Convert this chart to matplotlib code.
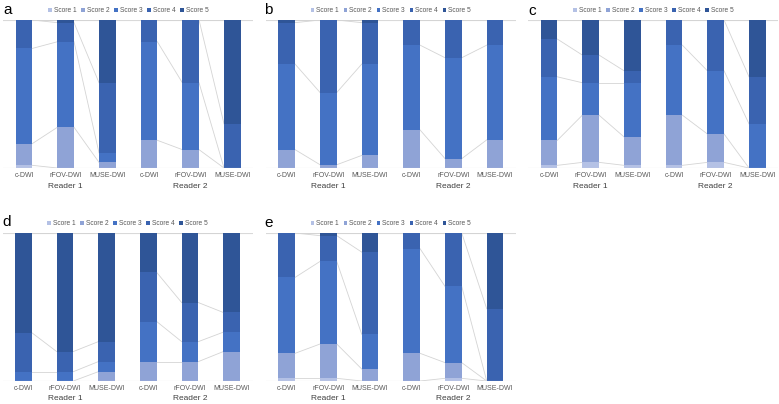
import matplotlib
matplotlib.use("Agg")
import matplotlib.pyplot as plt
import numpy as np
from matplotlib.patches import Patch
import matplotlib.transforms as mtransforms

categories = ["c-DWI", "rFOV-DWI", "MUSE-DWI", "c-DWI", "rFOV-DWI", "MUSE-DWI"]
groups = ["Reader 1", "Reader 2"]
series_names = ["Score 1", "Score 2", "Score 3", "Score 4", "Score 5"]

# percentages per score (rows) for each of the 6 bars (columns)
panel_a = [
    [1.8, 0.0, 0.0, 0.0, 0.0, 0.0],
    [14.7, 27.5, 3.8, 18.7, 12.4, 0.0],
    [64.3, 57.8, 6.4, 66.6, 45.2, 0.0],
    [19.2, 12.9, 47.4, 14.7, 42.4, 29.8],
    [0.0, 1.8, 42.4, 0.0, 0.0, 70.2],
]
panel_b = [
    [0.0, 0.0, 0.0, 0.0, 0.0, 0.0],
    [12.4, 2.2, 8.5, 25.7, 6.3, 19.0],
    [57.8, 48.8, 61.7, 57.3, 68.2, 64.0],
    [28.0, 49.0, 28.0, 17.0, 25.5, 17.0],
    [1.8, 0.0, 1.8, 0.0, 0.0, 0.0],
]
panel_c = [
    [1.8, 3.8, 1.8, 1.8, 3.8, 0.0],
    [16.9, 31.9, 19.2, 33.9, 19.2, 0.0],
    [42.9, 21.9, 36.6, 47.3, 42.7, 29.8],
    [25.5, 18.7, 8.1, 17.0, 34.3, 31.8],
    [12.9, 23.7, 34.3, 0.0, 0.0, 38.4],
]
panel_d = [
    [0.0, 0.0, 0.0, 0.0, 0.0, 0.0],
    [0.0, 0.0, 6.3, 13.1, 13.1, 19.9],
    [6.3, 6.3, 6.8, 27.1, 13.5, 13.1],
    [26.4, 13.6, 13.5, 33.2, 26.4, 13.3],
    [67.3, 80.1, 73.4, 26.6, 47.0, 53.7],
]
panel_e = [
    [1.8, 1.8, 0.0, 0.0, 1.8, 0.0],
    [16.9, 23.2, 8.1, 18.7, 10.6, 0.0],
    [51.3, 55.8, 23.5, 70.7, 51.5, 0.0],
    [30.0, 17.4, 55.5, 10.6, 36.1, 48.8],
    [0.0, 1.8, 12.9, 0.0, 0.0, 51.2],
]
panel_letters = ["a", "b", "c", "d", "e"]

colors = ["#b4c1e5", "#8fa3d6", "#4472c4", "#3a63b0", "#2f5597"]

plt.rcParams['font.family'] = ['Liberation Sans', 'DejaVu Sans']

W, H = 779, 404
fig = plt.figure(figsize=(W / 100, H / 100), dpi=100)

# (left px, top px of plot area, letter x px, letter y px)
layout = [
    (3.2, 20, 3, 10),
    (265.9, 20, 264, 10),
    (528.2, 20, 528, 11),
    (2.5, 233, 2, 222),
    (265.9, 233, 264, 223),
]
panels = [panel_a, panel_b, panel_c, panel_d, panel_e]
PW, PH = 250, 148

for vals, letter, (lx, ty, tx, tyy) in zip(panels, panel_letters, layout):
    ax = fig.add_axes([lx / W, (H - ty - PH) / H, PW / W, PH / H])
    vals = np.array(vals, dtype=float)
    x = np.arange(len(categories))
    bw = 0.4
    bottom = np.zeros(len(categories))
    tops = []
    for k in range(len(series_names)):
        ax.bar(x, vals[k], bw, bottom=bottom, color=colors[k], linewidth=0, zorder=2)
        bottom = bottom + vals[k]
        tops.append(bottom.copy())
    # series lines within each reader group
    for g in (0, 3):
        for i in (g, g + 1):
            for k in range(len(series_names)):
                ax.plot([i + bw / 2, i + 1 - bw / 2], [tops[k][i], tops[k][i + 1]],
                        color="#d4d4d4", lw=0.6, zorder=1)
    ax.set_xlim(-0.5, 5.5)
    ax.set_ylim(0, 100)
    ax.axhline(100, color="#d9d9d9", lw=0.8, zorder=0)
    ax.axhline(0, color="#d9d9d9", lw=0.8, zorder=3)
    for s in ax.spines.values():
        s.set_visible(False)
    ax.set_yticks([])
    ax.set_xticks(x)
    ax.set_xticklabels(categories, fontsize=5, color="#595959")
    ax.tick_params(axis='x', length=0, pad=3)
    trans = mtransforms.blended_transform_factory(ax.transData, ax.transAxes)
    for gi, gname in enumerate(groups):
        ax.text(1 + 3 * gi, -18 / PH, gname, transform=trans, ha='center', va='center',
                fontsize=6, color="#404040")
    handles = [Patch(facecolor=c, edgecolor='none') for c in colors]
    ax.legend(handles, series_names, loc='center', bbox_to_anchor=(0.5, 1 + 9.5 / PH),
              ncol=5, fontsize=4.8, frameon=False, handlelength=0.55, handleheight=0.55,
              handletextpad=0.3, columnspacing=0.7, borderaxespad=0, borderpad=0,
              labelcolor="#595959")
    fig.text(tx / W, 1 - tyy / H, letter, fontsize=11, ha='left', va='center', color="black")

fig.savefig("out.png", dpi=100)
